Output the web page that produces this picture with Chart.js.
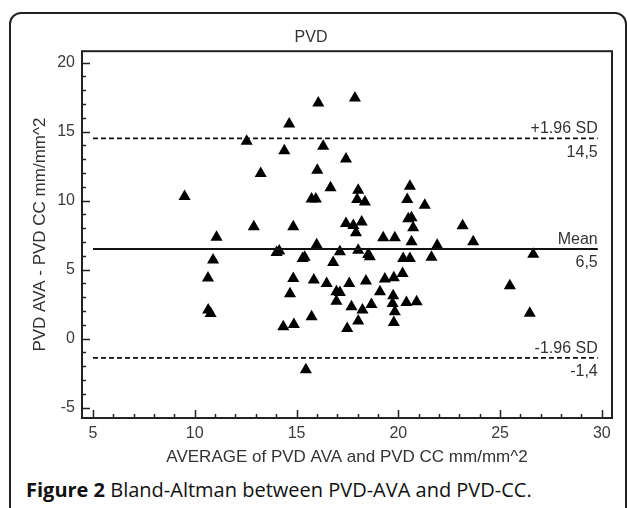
<!DOCTYPE html>
<html>
<head>
<meta charset="utf-8">
<script src="https://cdn.jsdelivr.net/npm/chart.js@4.4.1/dist/chart.umd.min.js"></script>
<style>
	html, body { margin: 0; padding: 0; background: #fff; }
	body { width: 627px; height: 508px; overflow: hidden; position: relative; }
	#card { position: absolute; left: 9px; top: 12px; width: 614px; height: 530px; border: 2px solid #222; border-radius: 12px; }
	#wrap { position: absolute; left: 0; top: 0; width: 627px; height: 470px; }
	#caption { position: absolute; left: 26px; top: 476px; font-family: 'Open Sans', sans-serif; font-size: 20px; line-height: normal; color: #111; white-space: nowrap; }
</style>
</head>
<body>
<div id="card"></div>
<div id="wrap"><canvas id="myChart"></canvas></div>
<div id="caption"><b>Figure 2</b> Bland-Altman between PVD-AVA and PVD-CC.</div>
<script>
// average of the two methods (x) and their difference (y)
const avgVals = [9.5, 10.65, 10.66, 10.78, 10.9, 11.07, 12.55, 12.9, 13.24, 14.02,
	14.15, 14.35, 14.4, 14.64, 14.68, 14.84, 14.84, 14.87, 15.3, 15.4,
	15.46, 15.74, 15.74, 15.95, 15.85, 15.99, 16.02, 16.07, 16.31, 16.48,
	16.67, 16.8, 16.96, 17.13, 16.96, 17.13, 17.43, 17.43, 17.49, 17.59,
	17.7, 17.79, 17.87, 17.92, 17.98, 18.03, 18.03, 18.03, 18.2, 18.24,
	18.36, 18.41, 18.52, 18.6, 18.68, 19.1, 19.26, 19.34, 19.75, 19.72,
	19.78, 19.83, 19.83, 19.78, 20.21, 20.24, 20.4, 20.44, 20.49, 20.57,
	20.57, 20.65, 20.65, 20.73, 20.9, 21.3, 21.63, 21.91, 23.16, 23.68,
	25.48, 26.46, 26.63];
const diffVals = [10.3, 4.4, 2.07, 1.82, 5.7, 7.35, 14.3, 8.1, 11.96, 6.24,
	6.34, 0.86, 13.6, 15.55, 3.25, 4.36, 8.1, 1.03, 5.8, 5.9,
	-2.25, 1.59, 10.12, 10.12, 4.24, 6.8, 12.2, 17.07, 13.94, 4.0,
	10.92, 5.52, 3.4, 3.34, 2.7, 6.29, 13.02, 8.34, 0.74, 4.0,
	2.31, 8.19, 17.43, 7.66, 10.07, 10.75, 6.41, 1.27, 8.44, 2.07,
	9.9, 4.17, 6.1, 5.93, 2.48, 3.4, 7.3, 4.31, 3.1, 2.55,
	4.41, 7.3, 1.95, 1.17, 4.72, 5.8, 2.62, 10.07, 8.68, 5.8,
	11.04, 8.75, 7.01, 8.03, 2.67, 9.67, 5.9, 6.77, 8.17, 7.01,
	3.83, 1.83, 6.12];

const refValues = [14.5, 6.5, -1.4];
const refNames = ['+1.96 SD', 'Mean', '-1.96 SD'];
const refTexts = ['14,5', '6,5', '-1,4'];
const lineSpan = [5, 29.8];

const xTicks = [5, 10, 15, 20, 25, 30];
const yTicks = [-5, 0, 5, 10, 15, 20];

Chart.defaults.font.family = "'Liberation Sans', Arial, sans-serif";
Chart.defaults.font.size = 16;
Chart.defaults.color = '#3a3a3a';

// frame, inward tick marks and the labels on the reference lines
const framePlugin = {
	id: 'frame',
	afterDatasetsDraw(chart) {
		const ctx = chart.ctx;
		const xs = chart.scales.x, ys = chart.scales.y;
		ctx.save();
		ctx.fillStyle = '#333';
		ctx.font = "16px 'Liberation Sans', Arial, sans-serif";
		ctx.textAlign = 'right';
		let xr = xs.getPixelForValue(lineSpan[1]);
		refValues.forEach((v, i) => {
			let yp = ys.getPixelForValue(v);
			ctx.textBaseline = 'alphabetic';
			ctx.fillText(refNames[i], xr, yp - 5);
			ctx.textBaseline = 'top';
			ctx.fillText(refTexts[i], xr, yp + 6);
		});
		ctx.restore();
	},
	afterDraw(chart) {
		const ctx = chart.ctx;
		const a = chart.chartArea;
		const xs = chart.scales.x, ys = chart.scales.y;
		ctx.save();
		ctx.strokeStyle = '#222';
		ctx.lineWidth = 2;
		ctx.strokeRect(a.left, a.top, a.right - a.left, a.bottom - a.top);
		ctx.lineWidth = 1.5;
		ctx.beginPath();
		for (let v = xTicks[0]; v <= xTicks[xTicks.length - 1]; v++) {
			let p = Math.round(xs.getPixelForValue(v)) + 0.5;
			let len = xTicks.includes(v) ? 8 : 4;
			ctx.moveTo(p, a.bottom);
			ctx.lineTo(p, a.bottom - len);
		}
		for (let v = yTicks[0]; v <= yTicks[yTicks.length - 1]; v++) {
			let p = Math.round(ys.getPixelForValue(v)) + 0.5;
			let len = yTicks.includes(v) ? 8 : 4;
			ctx.moveTo(a.left, p);
			ctx.lineTo(a.left + len, p);
		}
		ctx.stroke();
		ctx.restore();
	}
};

function refLine(v, dash) {
	return {
		type: 'line',
		data: lineSpan.map(x => ({x: x, y: v})),
		borderColor: '#111',
		borderWidth: dash ? 1.8 : 2,
		borderDash: dash ? [5, 3] : [],
		pointRadius: 0,
		fill: false
	};
}

let myChart = 0;
function createChart() {
	var ctx = document.getElementById('myChart');
	try {
		myChart.destroy();
	} catch (e) {}
	myChart = new Chart(ctx, {
		type: 'scatter',
		data: {
			datasets: [
				refLine(refValues[0], true),
				refLine(refValues[1], false),
				refLine(refValues[2], true),
				{
					data: avgVals.map((x, i) => ({x: x, y: diffVals[i]})),
					pointStyle: 'triangle',
					pointRadius: 7,
					backgroundColor: '#000',
					borderColor: '#000',
					borderWidth: 0
				}
			]
		},
		options: {
			responsive: true,
			maintainAspectRatio: false,
			animation: false,
			layout: { padding: { left: 10, right: 15, top: 0, bottom: 0 } },
			plugins: {
				legend: { display: false },
				tooltip: { enabled: false },
				title: {
					display: true,
					text: 'PVD',
					color: '#333',
					font: { size: 16, weight: 'normal' },
					padding: { top: 28, bottom: 4 }
				}
			},
			scales: {
				x: {
					type: 'linear',
					min: 4.46,
					max: 30.5,
					afterFit: s => { s.height = 52; },
					afterBuildTicks: s => { s.ticks = xTicks.map(v => ({value: v})); },
					grid: { display: false, drawTicks: false },
					border: { display: false },
					ticks: { padding: 6, includeBounds: false },
					title: {
						display: true,
						text: 'AVERAGE of PVD AVA and PVD CC mm/mm^2',
						color: '#333',
						font: { size: 17 },
						padding: { top: 0, bottom: 2 }
					}
				},
				y: {
					type: 'linear',
					min: -5.75,
					max: 20.82,
					afterFit: s => { s.width = 72; },
					afterBuildTicks: s => { s.ticks = yTicks.map(v => ({value: v})); },
					grid: { display: false, drawTicks: false },
					border: { display: false },
					ticks: { padding: 7, includeBounds: false },
					title: {
						display: true,
						text: 'PVD AVA - PVD CC mm/mm^2',
						color: '#333',
						font: { size: 17 },
						padding: { top: 20, bottom: 0 }
					}
				}
			}
		},
		plugins: [framePlugin]
	});
}

createChart();
</script>
</body>
</html>
